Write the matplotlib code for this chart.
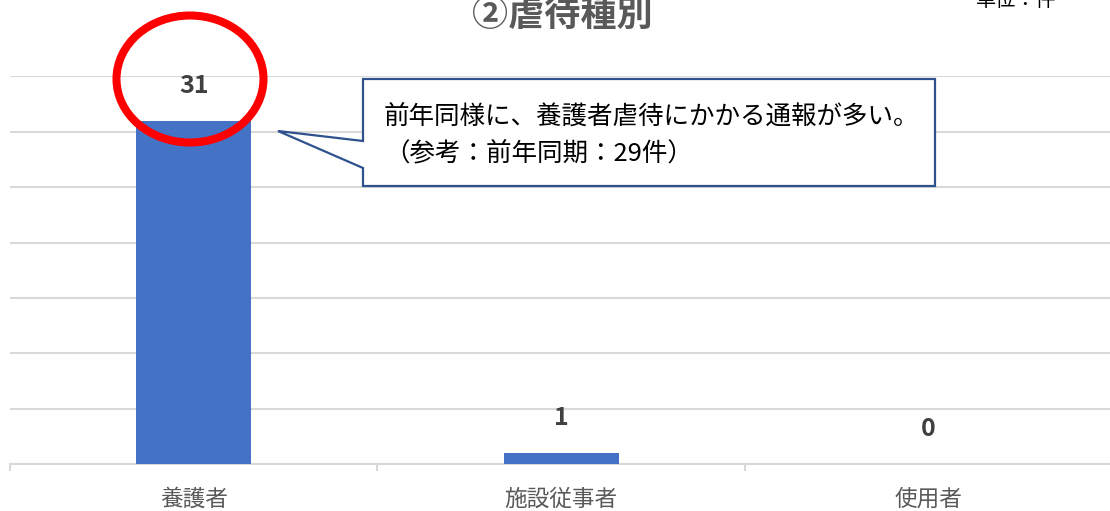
import matplotlib
matplotlib.use("Agg")
import matplotlib.pyplot as plt
from matplotlib.patches import Polygon, Ellipse
from matplotlib.ticker import FixedLocator

plt.rcParams['font.family'] = ['Noto Sans CJK JP', 'DejaVu Sans']

# Data
categories = ['養護者', '施設従事者', '使用者']
counts = [31, 1, 0]
title = '②虐待種別'
unit_label = '単位：件'
note_lines = ['前年同様に、養護者虐待にかかる通報が多い。', '（参考：前年同期：29件）']

W, H = 1110, 511
fig = plt.figure(figsize=(W / 100, H / 100), dpi=100)
fig.patch.set_facecolor('white')


def fx(px):
    return px / W


def fy(py):
    return 1 - py / H


ax = fig.add_axes([fx(10), 47 / H, 1102.5 / W, 387.5 / H])
x = list(range(len(categories)))
ax.bar(x, counts, width=0.313, color='#4472C4', zorder=3)

ax.set_xlim(-0.5, len(categories) - 0.5)
ax.set_ylim(0, 35)
ax.set_yticks(range(0, 36, 5))
ax.yaxis.grid(True, color='#D9D9D9', linewidth=1.5, zorder=0)
ax.set_axisbelow(True)
ax.tick_params(axis='y', length=0, labelleft=False)

ax.set_xticks(x)
ax.set_xticklabels(categories, fontsize=16.3, color='#595959')
ax.tick_params(axis='x', which='major', length=0, pad=17)
ax.xaxis.set_minor_locator(FixedLocator([i - 0.5 for i in range(len(categories) + 1)]))
ax.tick_params(axis='x', which='minor', length=5, width=1.5, color='#D9D9D9')

for s in ['top', 'left', 'right']:
    ax.spines[s].set_visible(False)
ax.spines['bottom'].set_color('#D9D9D9')
ax.spines['bottom'].set_linewidth(1.5)

for xi, v in zip(x, counts):
    ax.annotate(str(v), (xi, v), xytext=(0, 25), textcoords='offset points',
                ha='center', va='center', fontsize=18, fontweight='bold',
                color='#404040', zorder=5)

# Title and unit
fig.text(fx(562), fy(15), title, ha='center', va='center', fontsize=26,
         fontweight='bold', color='#595959')
fig.text(fx(1016), fy(1), unit_label, ha='center', va='center', fontsize=14.5,
         color='#000000')

# Callout box with pointer
callout_px = [(363, 79), (935, 79), (935, 186), (363, 186), (363, 168),
              (278, 131), (363, 141)]
callout = Polygon([(fx(a), fy(b)) for a, b in callout_px], closed=True,
                  transform=fig.transFigure, facecolor='white',
                  edgecolor='#2F528F', linewidth=1.6, zorder=10)
fig.add_artist(callout)
fig.text(fx(384), fy(117), note_lines[0], ha='left', va='center',
         fontsize=18.4, color='#000000', zorder=11)
fig.text(fx(384), fy(153), note_lines[1], ha='left', va='center',
         fontsize=18.4, color='#000000', zorder=11)

# Highlight ring around the largest value
ring = Ellipse((fx(190), fy(79)), 147 / W, 127 / H, transform=fig.transFigure,
               facecolor='none', edgecolor='#FF0000', linewidth=5.8, zorder=12)
fig.add_artist(ring)

fig.savefig('out.png', dpi=100)
